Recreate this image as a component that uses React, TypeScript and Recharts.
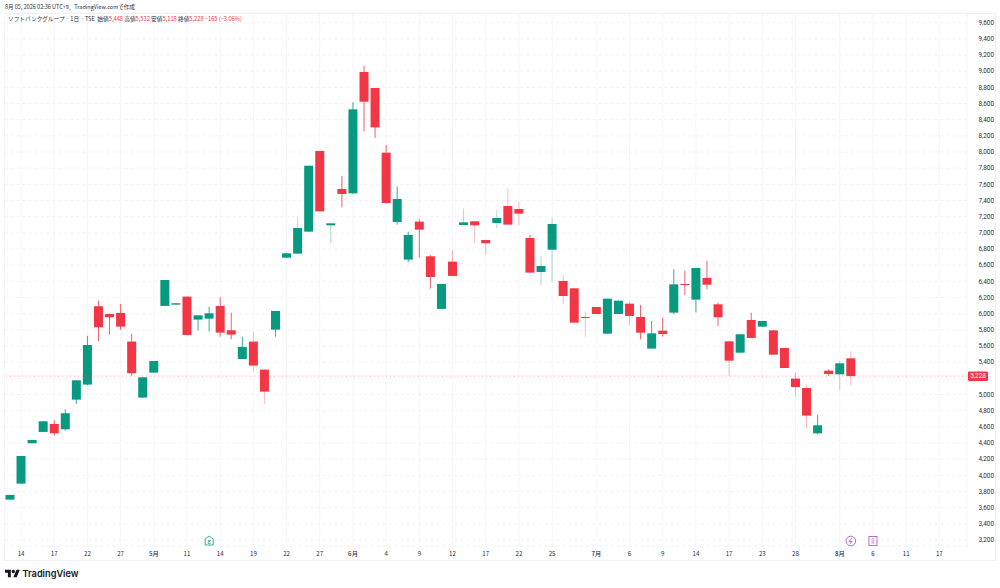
import { Bar, CartesianGrid, ComposedChart, ReferenceDot, ReferenceLine, XAxis, YAxis } from "recharts";

// trading days, then the empty days to the right of the last candle
const dates = [
  "04-13", "04-14", "04-15", "04-16", "04-17", "04-20", "04-21", "04-22", "04-23", "04-24",
  "04-27", "04-28", "04-30", "05-01", "05-07", "05-08", "05-11", "05-12", "05-13", "05-14",
  "05-15", "05-18", "05-19", "05-20", "05-21", "05-22", "05-25", "05-26", "05-27", "05-28",
  "05-29", "06-01", "06-02", "06-03", "06-04", "06-05", "06-08", "06-09", "06-10", "06-11",
  "06-12", "06-15", "06-16", "06-17", "06-18", "06-19", "06-22", "06-23", "06-24", "06-25",
  "06-26", "06-29", "06-30", "07-01", "07-02", "07-03", "07-06", "07-07", "07-08", "07-09",
  "07-10", "07-13", "07-14", "07-15", "07-16", "07-17", "07-21", "07-22", "07-23", "07-24",
  "07-27", "07-28", "07-29", "07-30", "07-31", "08-03", "08-04", "08-05", "08-06", "08-07",
  "08-10", "08-11", "08-13", "08-14", "08-17", "08-18", "08-19"
];

const opens = [
  3700, 3898, 4397, 4537, 4636, 4570, 4937, 5123, 6092, 5997, 6009, 5655, 4962, 5271, 6096, 6112, 6211, 5927, 5939,
  6096, 5795, 5440, 5655, 5308, 5803, 6693, 6743, 7015, 8013, 7093, 7543, 7489, 8990, 8792, 7992, 7135, 6669, 7139,
  6710, 6059, 6644, 7097, 7143, 6912, 7122, 7332, 7295, 6937, 6516, 6792, 6405, 6314, 5959, 6083, 5753, 5996, 6124,
  5959, 5568, 5790, 6013, 6367, 6174, 6442, 6116, 5658, 5518, 5922, 5840, 5794, 5576, 5197, 5081, 4520, 5295, 5250, 5448
];
const highs = [
  3758, 4240, 4438, 4669, 4686, 4818, 5176, 5725, 6158, 5997, 6120, 5749, 5213, 5415, 6417, 6129, 6211, 5980, 6087,
  6203, 6013, 5716, 5778, 5308, 6034, 6747, 7200, 7831, 8013, 7118, 7704, 8615, 9068, 8792, 8087, 7576, 7015, 7168,
  6726, 6368, 6788, 7304, 7143, 6912, 7283, 7551, 7386, 6974, 6714, 7180, 6479, 6314, 6025, 6083, 6186, 6161, 6149,
  6108, 5910, 5951, 6549, 6532, 6565, 6652, 6137, 5658, 5745, 6013, 5910, 5794, 5576, 5271, 5118, 4751, 5312, 5419, 5532
];
const lows = [
  3700, 3898, 4397, 4537, 4492, 4554, 4884, 5114, 5663, 5741, 5799, 5230, 4962, 5271, 6096, 6112, 5737, 5791, 5778,
  5716, 5683, 5436, 5283, 4884, 5716, 6693, 6743, 7015, 7266, 6871, 7316, 7481, 8256, 8174, 7365, 7102, 6636, 6697,
  6310, 6059, 6467, 7097, 6871, 6726, 7056, 7102, 7097, 6508, 6355, 6397, 6120, 5889, 5716, 5996, 5753, 5996, 5860,
  5683, 5568, 5716, 5996, 6231, 6017, 6306, 5848, 5230, 5518, 5700, 5840, 5493, 5328, 4982, 4574, 4508, 5230, 5056, 5118
];
const closes = [
  3758, 4240, 4438, 4669, 4521, 4768, 5176, 5613, 5832, 5956, 5840, 5263, 5213, 5415, 6417, 6129, 5737, 5980, 6005,
  5766, 5741, 5589, 5358, 5036, 6034, 6747, 7060, 7831, 7266, 7118, 7481, 8528, 8623, 8305, 7370, 7419, 6974, 7040,
  6454, 6368, 6467, 7130, 7093, 6871, 7184, 7102, 7238, 6508, 6590, 7110, 6219, 5889, 5951, 5996, 6186, 6161, 5972,
  5765, 5757, 5749, 6363, 6359, 6565, 6359, 5955, 5419, 5745, 5700, 5910, 5493, 5328, 5093, 4739, 4619, 5254, 5386, 5228
];

const priceTicks = [
  3200, 3400, 3600, 3800, 4000, 4200, 4400, 4600, 4800, 5000, 5200, 5400, 5600, 5800, 6000, 6200, 6400,
  6600, 6800, 7000, 7200, 7400, 7600, 7800, 8000, 8200, 8400, 8600, 8800, 9000, 9200, 9400, 9600
];

const dateTicks = [
  "04-14", "04-17", "04-22", "04-27", "05-01", "05-11", "05-14", "05-19", "05-22", "05-27", "06-01", "06-04", "06-09",
  "06-12", "06-17", "06-22", "06-25", "07-01", "07-06", "07-09", "07-14", "07-17", "07-23", "07-28", "08-03", "08-06",
  "08-11", "08-17"
];

// days whose wick comes out pale in the screenshot
const paleWicks = [
  "05-19", "05-20", "05-25", "05-28", "06-12", "06-15", "06-16", "06-17", "06-18", "06-19", "06-22", "06-24",
  "06-25", "06-26", "06-30", "07-06", "07-17", "07-28", "07-29", "08-03", "08-04"
];

const lastPrice = 5228;
const hiddenPriceTick = 5200; // sits under the last price tag
const markerPrice = 3188;
const earningsDay = "05-13";
const dividendDay = "08-04";
const reportDay = "08-06";

const GREEN = "#089981";
const RED = "#F23645";
const PURPLE = "#9C4FC4";
const TEXT = "#2a2e39";
const AXIS_FONT = "Roboto, sans-serif";
const JP_FONT = "'Noto Sans CJK JP', sans-serif";

const data = dates.map((date, i) => ({
  date,
  open: opens[i],
  high: highs[i],
  low: lows[i],
  close: closes[i],
}));

function Candle(props: any) {
  const { x, y, width, height, payload } = props;
  if (payload.open == null) return null;
  const perUnit = height / (payload.high - payload.low);
  const top = y + (payload.high - Math.max(payload.open, payload.close)) * perUnit;
  const bodyHeight = Math.max(Math.abs(payload.open - payload.close) * perUnit, 1);
  const color = payload.close >= payload.open ? GREEN : RED;
  const wickOpacity = paleWicks.includes(payload.date) ? 0.35 : 0.8;
  return (
    <g>
      <line x1={x + width / 2} x2={x + width / 2} y1={y} y2={y + height} stroke={color} strokeWidth={1} strokeOpacity={wickOpacity} />
      <rect x={x} y={top} width={width} height={bodyHeight} fill={color} />
    </g>
  );
}

function PriceTick({ x, y, payload }: any) {
  if (payload.value === hiddenPriceTick) return null;
  return (
    <text x={x + 19} y={y + 2.3} textAnchor="end" fontSize={6.4} fontFamily={AXIS_FONT} fill={TEXT}>
      {payload.value.toLocaleString("en-US")}
    </text>
  );
}

function DateTick({ x, y, payload }: any) {
  const [month, day] = payload.value.split("-");
  const isMonth = day === "01" || (day === "03" && month === "08");
  return (
    <text x={x} y={y + 2} textAnchor="middle" fontSize={6.2} fontFamily={JP_FONT} fill={TEXT} fontWeight={isMonth ? 500 : 400}>
      {isMonth ? `${Number(month)}月` : Number(day)}
    </text>
  );
}

function PriceTag({ viewBox }: any) {
  const right = viewBox.x + viewBox.width;
  return (
    <g>
      <rect x={right + 1} y={viewBox.y - 4.5} width={20} height={9.5} rx={1} fill={RED} />
      <text x={right + 11} y={viewBox.y + 2.4} textAnchor="middle" fontSize={6.4} fontFamily={AXIS_FONT} fill="#fff">
        5,228
      </text>
    </g>
  );
}

function EarningsMark({ cx, cy }: any) {
  return (
    <g>
      <path
        d={`M${cx - 4} ${cy - 2} L${cx} ${cy - 5} L${cx + 4} ${cy - 2} V${cy + 4} H${cx - 4} Z`}
        fill="#fff"
        stroke={GREEN}
        strokeWidth={0.8}
      />
      <text x={cx} y={cy + 2.8} textAnchor="middle" fontSize={6} fontFamily={AXIS_FONT} fill={GREEN}>
        E
      </text>
    </g>
  );
}

function DividendMark({ cx, cy }: any) {
  return (
    <g>
      <circle cx={cx} cy={cy} r={4.8} fill="#fff" stroke={PURPLE} strokeWidth={0.8} />
      <path d={`M${cx + 1} ${cy - 3} L${cx - 1.6} ${cy + 0.5} H${cx + 1.2} L${cx - 1} ${cy + 3}`} fill="none" stroke={PURPLE} strokeWidth={0.8} />
    </g>
  );
}

function ReportMark({ cx, cy }: any) {
  return (
    <g>
      <rect x={cx - 4} y={cy - 4.5} width={8} height={9} fill="#fff" stroke={PURPLE} strokeWidth={0.8} />
      <path d={`M${cx - 1.5} ${cy - 2} H${cx + 1.5} M${cx - 1.5} ${cy} H${cx + 1.5} M${cx - 1.5} ${cy + 2} H${cx + 1.5}`} stroke={PURPLE} strokeWidth={0.7} />
    </g>
  );
}

export default function App() {
  return (
    <div style={{ position: "fixed", left: 0, top: 0, width: 1000, height: 588, background: "#fff", overflow: "hidden" }}>
      <div style={{ position: "absolute", left: 5, top: 3, fontSize: 5.5, lineHeight: "8px", fontFamily: JP_FONT, color: TEXT, whiteSpace: "nowrap" }}>
        8月 05, 2026 02:36 UTC+9、TradingView.comで作成
      </div>
      <div style={{ position: "absolute", left: 4, top: 13, width: 992, height: 548, boxSizing: "border-box", border: "1px solid #f0f1f5" }} />
      <ComposedChart
        width={1000}
        height={588}
        data={data}
        barCategoryGap={0}
        margin={{ top: 13, right: 0, bottom: 27, left: 4.47 }}
        style={{ position: "absolute", left: 0, top: 0 }}
      >
        <CartesianGrid vertical={false} stroke="#f0f2f7" strokeDasharray="3 3" />
        <CartesianGrid horizontal={false} stroke="#f4f6fb" />
        <XAxis
          dataKey="date"
          ticks={dateTicks}
          interval={0}
          height={15}
          axisLine={false}
          tickLine={false}
          tick={<DateTick />}
        />
        <YAxis
          orientation="right"
          width={33}
          domain={[3126, 9720]}
          ticks={priceTicks}
          interval={0}
          axisLine={false}
          tickLine={false}
          tick={<PriceTick />}
        />
        <ReferenceLine y={lastPrice} stroke={RED} strokeWidth={0.8} strokeOpacity={0.55} strokeDasharray="1 3" label={<PriceTag />} />
        <Bar
          dataKey={(d: any) => (d.open == null ? null : [d.low, d.high])}
          barSize={9}
          shape={<Candle />}
          isAnimationActive={false}
        />
        <ReferenceDot x={earningsDay} y={markerPrice} shape={<EarningsMark />} />
        <ReferenceDot x={dividendDay} y={markerPrice} shape={<DividendMark />} />
        <ReferenceDot x={reportDay} y={markerPrice} shape={<ReportMark />} />
      </ComposedChart>
      <div style={{ position: "absolute", left: 8, top: 15, fontSize: 5.7, lineHeight: "8px", fontFamily: JP_FONT, color: TEXT, whiteSpace: "nowrap" }}>
        ソフトバンクグループ · 1日 · TSE&nbsp;&nbsp;始値<span style={{ color: RED }}>5,448</span>&nbsp;高値<span style={{ color: RED }}>5,532</span>&nbsp;安値<span style={{ color: RED }}>5,118</span>&nbsp;終値<span style={{ color: RED }}>5,228 −165 (−3.06%)</span>
      </div>
      <svg width={15} height={12} viewBox="0 0 36 28" style={{ position: "absolute", left: 5, top: 568 }}>
        <path d="M14 22H7V11H0V4h14v18zM28 22h-8l7.5-18h8L28 22z" fill="#131722" />
        <circle cx={20} cy={8} r={4} fill="#131722" />
      </svg>
      <div style={{ position: "absolute", left: 22.5, top: 567, fontSize: 9.2, lineHeight: "14px", fontWeight: 600, fontFamily: "Inter, sans-serif", color: "#131722", whiteSpace: "nowrap" }}>
        TradingView
      </div>
    </div>
  );
}
